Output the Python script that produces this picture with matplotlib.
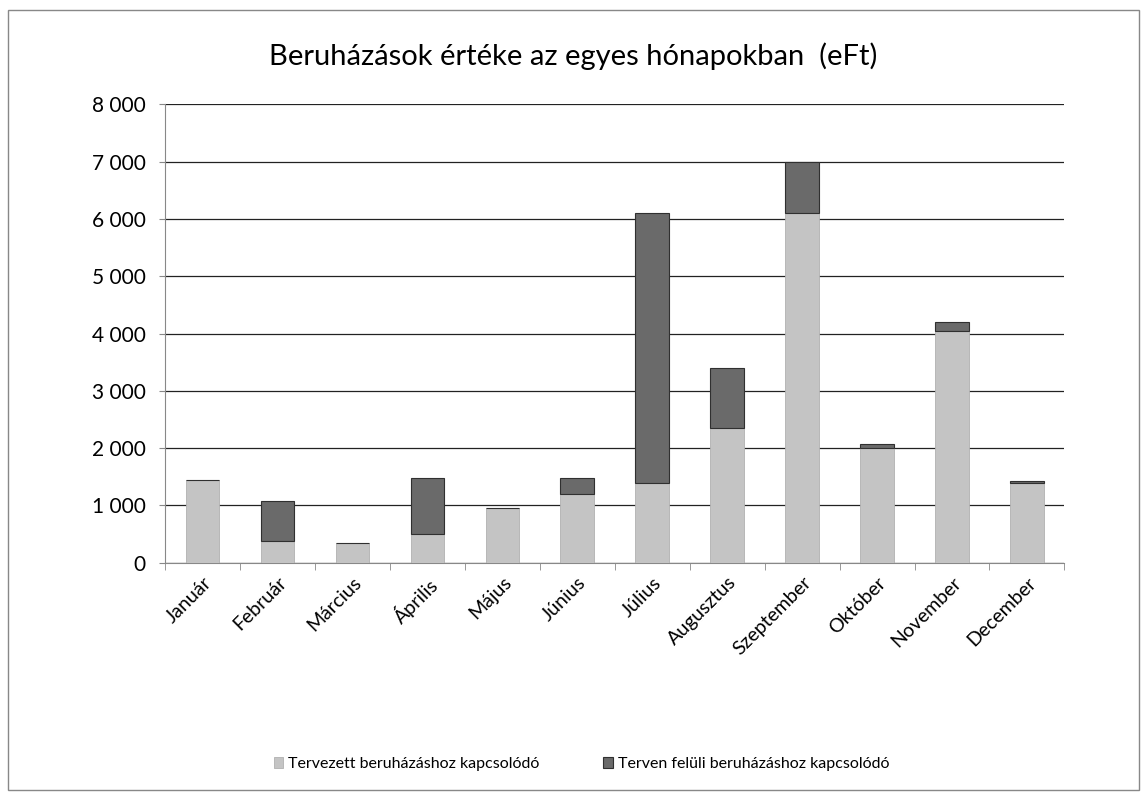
import matplotlib.pyplot as plt
from matplotlib.patches import Rectangle
from matplotlib.ticker import FuncFormatter, MultipleLocator
import numpy as np

plt.rcParams["font.family"] = ["Lato", "DejaVu Sans"]

months = ["Január", "Február", "Március", "Április", "Május", "Június",
          "Július", "Augusztus", "Szeptember", "Október", "November", "December"]
tervezett = [1450, 380, 350, 500, 960, 1200, 1400, 2350, 6100, 2000, 4040, 1400]
terven_feluli = [0, 700, 0, 980, 0, 280, 4700, 1050, 900, 70, 160, 30]

LIGHT = "#c4c4c4"
DARK = "#6a6a6a"

fig = plt.figure(figsize=(11.47, 7.96), dpi=100)
ax = fig.add_axes([0.144, 0.293, 0.784, 0.576])

x = np.arange(len(months))
ax.bar(x, tervezett, 0.45, color=LIGHT, edgecolor="#b0b0b0", linewidth=0.6,
       label="Tervezett beruházáshoz kapcsolódó", zorder=3)
ax.bar(x, terven_feluli, 0.45, bottom=tervezett, color=DARK, edgecolor="#303030",
       linewidth=0.8, label="Terven felüli beruházáshoz kapcsolódó", zorder=3)

ax.set_xlim(-0.5, len(months) - 0.5)
ax.set_ylim(0, 8000)
ax.yaxis.set_major_locator(MultipleLocator(1000))
ax.yaxis.set_major_formatter(FuncFormatter(lambda v, p: f"{int(v):,}".replace(",", " ")))
ax.grid(axis="y", color="#222222", linewidth=0.9, zorder=0)

ax.set_xticks(x)
ax.set_xticklabels(months, rotation=45, ha="right", rotation_mode="anchor", fontsize=14)
ax.set_xticks(np.arange(-0.5, len(months)), minor=True)
ax.tick_params(axis="x", which="major", length=0, pad=8)
ax.tick_params(axis="x", which="minor", length=5, color="#888888")
ax.tick_params(axis="y", labelsize=15, length=4, color="#888888", pad=10)

for side in ["top", "right"]:
    ax.spines[side].set_visible(False)
ax.spines["left"].set_color("#888888")
ax.spines["bottom"].set_color("#888888")

fig.text(0.5, 0.93, "Beruházások értéke az egyes hónapokban  (eFt)",
         ha="center", va="center", fontsize=21)

fig.legend(loc="center", bbox_to_anchor=(0.507, 0.04), ncol=2, frameon=False,
           fontsize=11.5, handlelength=0.6, handleheight=0.6, columnspacing=4,
           handletextpad=0.3)

fig.patches.append(Rectangle((0.007, 0.008), 0.986, 0.98, transform=fig.transFigure,
                             fill=False, edgecolor="#888888", linewidth=1))

fig.savefig("out.png", dpi=100)
